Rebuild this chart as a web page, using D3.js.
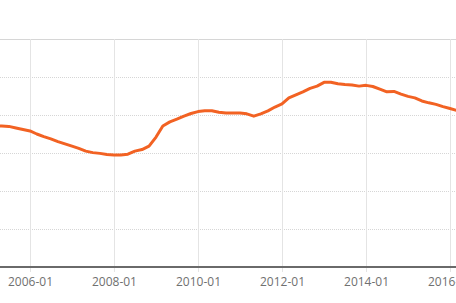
<!DOCTYPE html>
<html>
<head>
<meta charset="utf-8">
<script src="https://cdn.jsdelivr.net/npm/d3@7/dist/d3.min.js"></script>
<style>
  html, body { margin: 0; padding: 0; background: #fff; }
  svg { display: block; }
</style>
</head>
<body>
<svg id="chart" width="456" height="303"></svg>
<script>
// ---- data ----
const dates = [
  "2005-01","2005-03","2005-05","2005-07","2005-09","2005-11",
  "2006-01","2006-03","2006-05","2006-07","2006-09","2006-11",
  "2007-01","2007-03","2007-05","2007-07","2007-09","2007-11",
  "2008-01","2008-03","2008-05","2008-07","2008-09","2008-11",
  "2009-01","2009-03","2009-05","2009-07","2009-09","2009-11",
  "2010-01","2010-03","2010-05","2010-07","2010-09","2010-11",
  "2011-01","2011-03","2011-05","2011-07","2011-09","2011-11",
  "2012-01","2012-03","2012-05","2012-07","2012-09","2012-11",
  "2013-01","2013-03","2013-05","2013-07","2013-09","2013-11",
  "2014-01","2014-03","2014-05","2014-07","2014-09","2014-11",
  "2015-01","2015-03","2015-05","2015-07","2015-09","2015-11",
  "2016-01","2016-03"
];
const values = [
  3.72,3.71,3.71,3.70,3.66,3.62,
  3.58,3.50,3.43,3.37,3.30,3.24,
  3.18,3.12,3.05,3.01,2.99,2.96,
  2.95,2.95,2.97,3.05,3.09,3.18,
  3.42,3.71,3.82,3.89,3.97,4.04,
  4.09,4.11,4.11,4.07,4.05,4.05,
  4.05,4.03,3.97,4.03,4.11,4.21,
  4.29,4.45,4.53,4.61,4.70,4.76,
  4.86,4.86,4.82,4.80,4.79,4.76,
  4.78,4.75,4.68,4.61,4.62,4.55,
  4.49,4.45,4.37,4.32,4.28,4.22,
  4.17,4.12
];
const xTickLabels = ["2006-01","2008-01","2010-01","2012-01","2014-01","2016-01"];
const yTickValues = [0,1,2,3,4,5,6];

// ---- setup ----
const W = 456, H = 303;
const parse = d3.timeParse("%Y-%m");
const fmt = d3.timeFormat("%Y-%m");
const data = dates.map((d, i) => ({ date: parse(d), value: values[i] }));

const svg = d3.select("#chart");
const plotTop = 39, plotBottom = 267;

const x = d3.scaleTime()
  .domain([parse("2006-01"), parse("2016-01")])
  .range([30, 450]);
const y = d3.scaleLinear()
  .domain([0, 6])
  .range([plotBottom, plotTop]);

// clip
svg.append("defs").append("clipPath").attr("id", "clip")
  .append("rect").attr("x", 0).attr("y", 0).attr("width", W).attr("height", plotBottom);

// horizontal grid
svg.append("g").selectAll("line")
  .data(yTickValues.filter(v => v > 0))
  .join("line")
  .attr("x1", 0).attr("x2", W)
  .attr("y1", d => Math.round(y(d)) + 0.5).attr("y2", d => Math.round(y(d)) + 0.5)
  .attr("stroke", "#d6d6d6")
  .attr("stroke-width", 1)
  .attr("stroke-dasharray", d => d === 6 ? null : "1,1");

// vertical grid
const xTicks = xTickLabels.map(parse);
svg.append("g").selectAll("line")
  .data(xTicks)
  .join("line")
  .attr("x1", d => Math.round(x(d)) + 0.5).attr("x2", d => Math.round(x(d)) + 0.5)
  .attr("y1", plotTop).attr("y2", plotBottom)
  .attr("stroke", "#e4e4e4")
  .attr("stroke-width", 1);

// x axis
const xAxis = d3.axisBottom(x)
  .tickValues(xTicks)
  .tickFormat(fmt)
  .tickSizeInner(5)
  .tickSizeOuter(0)
  .tickPadding(5);
const gx = svg.append("g")
  .attr("transform", `translate(0,${plotBottom})`)
  .call(xAxis);
gx.select(".domain").remove();
gx.selectAll(".tick line").attr("stroke", "#e4e4e4");
gx.selectAll(".tick text")
  .attr("fill", "#707070")
  .style("font-family", "'Open Sans', sans-serif")
  .style("font-size", "12px");
gx.append("line")
  .attr("x1", 0).attr("x2", W).attr("y1", 0).attr("y2", 0)
  .attr("stroke", "#6a6a6a").attr("stroke-width", 2);

// line
const line = d3.line()
  .x(d => x(d.date))
  .y(d => y(d.value))
  .curve(d3.curveLinear);
svg.append("path")
  .datum(data)
  .attr("clip-path", "url(#clip)")
  .attr("fill", "none")
  .attr("stroke", "#f26223")
  .attr("stroke-width", 3)
  .attr("stroke-linejoin", "round")
  .attr("stroke-linecap", "round")
  .attr("d", line);
</script>
</body>
</html>
